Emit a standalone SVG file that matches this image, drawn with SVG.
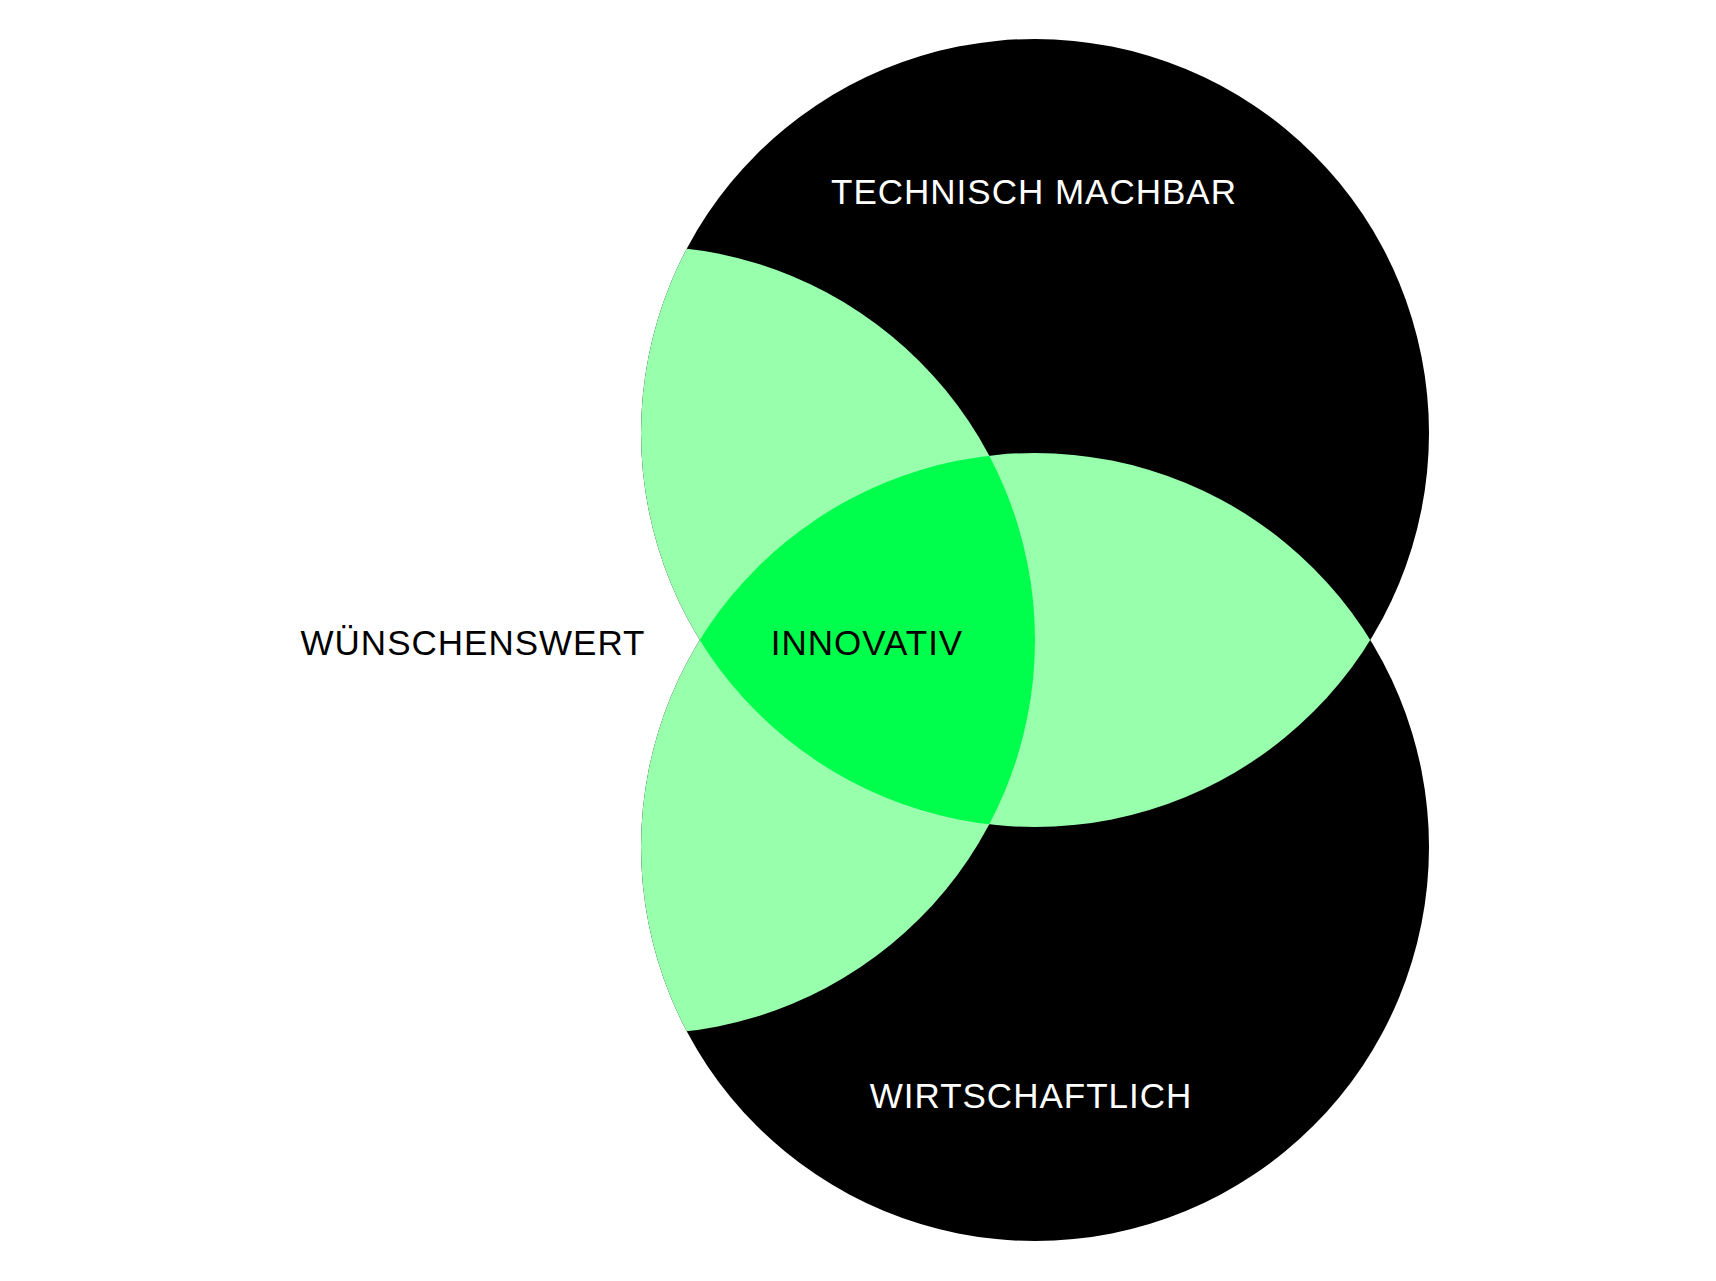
<svg xmlns="http://www.w3.org/2000/svg" width="1716" height="1281" viewBox="0 0 1716 1281">
  <style>
    .label { font-family: "Liberation Sans", Arial, Helvetica, sans-serif; font-size: 35px; letter-spacing: 1px; text-anchor: middle; }
    .light { fill: #fff; }
    .dark { fill: #000; }
    .set { fill: #000; }
    .pair { fill: #98FFAD; }
    .core { fill: #00FF4C; }
  </style>
  <defs>
    <!-- the three sets: feasible (top), viable (bottom), desirable (left) -->
    <circle id="c-tech" cx="1035" cy="433" r="394"/>
    <circle id="c-wirt" cx="1035" cy="847" r="394"/>
    <circle id="c-wuen" cx="641" cy="640" r="394"/>
    <clipPath id="clip-tech"><use href="#c-tech"/></clipPath>
    <clipPath id="clip-wirt"><use href="#c-wirt"/></clipPath>
  </defs>

  <rect width="1716" height="1281" fill="#fff"/>

  <g id="technisch-machbar">
    <use href="#c-tech" class="set"/>
    <text class="label light" x="1034" y="204">TECHNISCH MACHBAR</text>
  </g>

  <g id="wirtschaftlich">
    <use href="#c-wirt" class="set"/>
    <text class="label light" x="1031" y="1108">WIRTSCHAFTLICH</text>
  </g>

  <g id="wuenschenswert">
    <!-- overlaps of two sets -->
    <g clip-path="url(#clip-tech)">
      <use href="#c-wuen" class="pair"/>
      <use href="#c-wirt" class="pair"/>
    </g>
    <g clip-path="url(#clip-wirt)">
      <use href="#c-wuen" class="pair"/>
    </g>
    <text class="label dark" x="473" y="655">WÜNSCHENSWERT</text>
  </g>

  <g id="innovativ">
    <!-- overlap of all three sets -->
    <g clip-path="url(#clip-tech)">
      <g clip-path="url(#clip-wirt)">
        <use href="#c-wuen" class="core"/>
      </g>
    </g>
    <text class="label dark" x="867" y="655">INNOVATIV</text>
  </g>
</svg>
